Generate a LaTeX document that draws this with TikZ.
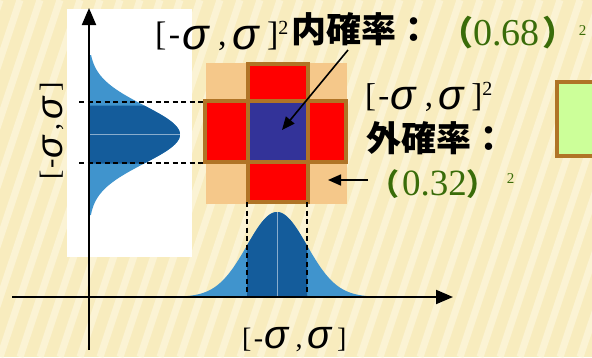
\documentclass[tikz,border=0pt]{standalone}
\usepackage{fontspec}
\setmainfont{Liberation Serif}
\newfontfamily\cjkfont{Noto Sans CJK JP}
\newfontfamily\sigfont{Liberation Sans}
\usetikzlibrary{arrows.meta}
\definecolor{bgc}{RGB}{248,236,190}
\definecolor{stripec}{RGB}{253,247,222}
\definecolor{tanc}{RGB}{245,200,138}
\definecolor{brownb}{RGB}{176,116,38}
\definecolor{cellblue}{RGB}{51,51,153}
\definecolor{greenc}{RGB}{58,108,10}
\definecolor{lgreen}{RGB}{204,255,153}
\definecolor{gblue}{RGB}{64,148,205}
\definecolor{gdark}{RGB}{20,92,155}
\newdimen\ivlu
\newdimen\ivld
\newcommand{\mysig}[1]{\raisebox{-\ivld}{\fontsize{#1}{#1}\selectfont\sigfont\itshape σ}}
% #1 bracket size, #2 sigma size, #3 spacing unit, #4 sigma drop
\newcommand{\myivl}[4]{{\ivlu=#3pt\ivld=#4pt\fontsize{#1}{#1}\selectfont
  \rlap{[}\rlap{\hspace{14\ivlu}-}\rlap{\hspace{27\ivlu}\mysig{#2}}\rlap{\hspace{63\ivlu},}\rlap{\hspace{77\ivlu}\mysig{#2}}\hspace{112\ivlu}]}}
\begin{document}
\begin{tikzpicture}[x=1pt,y=-1pt,
  arr/.style={line width=1.6pt,-{Triangle[length=13pt,width=11pt]}},
  axisline/.style={line width=2pt,-{Triangle[length=17pt,width=14pt]}},
  guide/.style={line width=1.3pt,dash pattern=on 5pt off 3.5pt},
  cell/.style={draw=brownb,line width=4pt,fill=red,inner sep=0pt,outer sep=0pt},
  lab/.style={inner sep=0pt,outer sep=0pt,anchor=base west}
]
\useasboundingbox (0,0) rectangle (592,357);
% background
\fill[bgc] (0,0) rectangle (592,357);
\begin{scope}
\clip (0,0) rectangle (592,357);
\foreach \i in {-8,...,32}
  \draw[stripec,line width=7pt,opacity=0.7] (\i*20,357) -- (\i*20+120,0);
\end{scope}
% white image area
\fill[white] (67,9) rectangle (192,257);
% vertical gaussian
\fill[gblue] (89,55) -- plot[domain=55:215,samples=80,variable=\t] ({89+91*exp(-((\t-134.5)/29)^2/2)},\t) -- (89,215) -- cycle;
\fill[gdark] (89,105.5) -- plot[domain=105.5:163.5,samples=40,variable=\t] ({89+91*exp(-((\t-134.5)/29)^2/2)},\t) -- (89,163.5) -- cycle;
\draw[white,opacity=0.5,line width=1pt] (89,134.5) -- (180,134.5);
% horizontal gaussian
\fill[gblue] (160,297) -- plot[domain=160:400,samples=80,variable=\t] (\t,{297-85*exp(-((\t-277)/30)^2/2)}) -- (400,297) -- cycle;
\fill[gdark] (247,297) -- plot[domain=247:307,samples=40,variable=\t] (\t,{297-85*exp(-((\t-277)/30)^2/2)}) -- (307,297) -- cycle;
\draw[white,opacity=0.5,line width=1pt] (277,297) -- (277,212);
% square grid
\fill[tanc] (206,63) rectangle (347,204);
\node[cell,minimum width=60pt,minimum height=37pt] (topc) at (278,82.5) {};
\node[cell,minimum width=60pt,minimum height=40pt] (botc) at (278,182) {};
\node[cell,minimum width=43pt,minimum height=61pt] (leftc) at (226.5,131.5) {};
\node[cell,minimum width=38pt,minimum height=61pt] (rightc) at (327,131.5) {};
\node[cell,fill=cellblue,minimum width=60pt,minimum height=61pt] (midc) at (278,131.5) {};
% light green box
\node[cell,fill=lgreen,minimum width=50pt,minimum height=74pt] (gbox) at (582,119) {};
% axes
\coordinate (yb) at (89,350);
\coordinate (yt) at (89,8);
\coordinate (xl) at (12,297);
\coordinate (xr) at (453,297);
\draw[axisline] (yb) -- (yt);
\draw[axisline] (xl) -- (xr);
% dashed guides
\coordinate (h1a) at (79,102); \coordinate (h2a) at (79,163);
\draw[guide] (h1a) -- (leftc.west |- h1a);
\draw[guide] (h2a) -- (leftc.west |- h2a);
\coordinate (v1) at (247,297); \coordinate (v2) at (307,297);
\draw[guide] (botc.south -| v1) -- (v1);
\draw[guide] (botc.south -| v2) -- (v2);
% texts
\node[lab] (t1) at (155,45.5) {\myivl{34}{44}{1}{4}\raisebox{11pt}{\fontsize{20}{20}\selectfont 2}\hspace{3pt}\raisebox{3pt}{\fontsize{35}{35}\selectfont\cjkfont\bfseries 内確率：}\hspace{8pt}{\color{greenc}{\fontsize{34}{34}\selectfont\cjkfont\bfseries （}{\fontsize{38}{38}\selectfont 0.68}\hspace{3pt}{\fontsize{34}{34}\selectfont\cjkfont\bfseries ）}\hspace{2pt}\raisebox{10pt}{\fontsize{15}{15}\selectfont 2}}};
\node[lab] (t2) at (365,106) {\myivl{33}{42}{0.95}{3.8}\raisebox{11pt}{\fontsize{20}{20}\selectfont 2}};
\node[lab] (t3) at (366,151) {{\fontsize{35}{35}\selectfont\cjkfont\bfseries 外確率：}};
\node[lab] (t4) at (369,195) {\color{greenc}{\fontsize{30}{30}\selectfont\cjkfont\bfseries （}\hspace{3pt}{\fontsize{37}{37}\selectfont 0.32}{\fontsize{30}{30}\selectfont\cjkfont\bfseries ）}\hspace{10pt}\raisebox{12pt}{\fontsize{15}{15}\selectfont 2}};
\node[lab] (t5) at (242,347) {\myivl{28}{40}{0.85}{1}};
\node[inner sep=0pt,rotate=90] (t6) at (52,131) {\myivl{28}{37}{0.78}{3}};
% arrows
\coordinate (a1) at (348,50);
\coordinate (a1e) at (282,130);
\draw[arr] (a1) -- (a1e);
\coordinate (a2) at (368,180);
\coordinate (a2e) at (328,180);
\draw[arr] (a2) -- (a2e);
\end{tikzpicture}
\end{document}
